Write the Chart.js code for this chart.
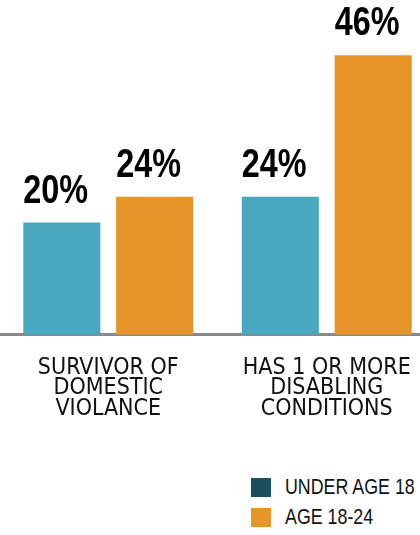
<!DOCTYPE html>
<html>
<head>
<meta charset="utf-8">
<script src="https://cdn.jsdelivr.net/npm/chart.js@4.4.1/dist/chart.umd.min.js"></script>
<style>
html, body { margin: 0; padding: 0; background: #fff; width: 420px; height: 535px; overflow: hidden; position: relative; }
#wrap { position: absolute; left: -1px; top: 0; width: 437px; height: 442px; }
#legend { position: absolute; left: 251px; top: 472px; font-family: "Liberation Sans", Arial, sans-serif; font-size: 22px; color: #111; white-space: nowrap; }
.item { display: flex; align-items: center; height: 30px; }
.box { width: 20px; height: 19px; margin-right: 14px; flex: none; }
.txt { display: inline-block; transform: scaleX(0.81); transform-origin: left center; }
</style>
</head>
<body>
<div id="wrap"><canvas id="chart"></canvas></div>
<div id="legend"></div>
<script>
// chart data
var categories = [["SURVIVOR OF", "DOMESTIC", "VIOLANCE"], ["HAS 1 OR MORE", "DISABLING", "CONDITIONS"]];
var seriesNames = ["UNDER AGE 18", "AGE 18-24"];
var under18 = [20, 24];
var age18to24 = [24, 46];

var TICK_FONT = '"DejaVu Sans Condensed", "Liberation Sans", sans-serif';
var LABEL_FONT = '"Liberation Sans", Arial, sans-serif';
var barColors = ["#49A8BF", "#E69628"];
var legendColors = ["#1B4F5B", "#E69628"];

// percent labels over each bar, left aligned to the bar (narrowed like the original)
var valueLabels = {
    id: "valueLabels",
    afterDatasetsDraw: function(chart) {
        var ctx = chart.ctx;
        chart.data.datasets.forEach(function(ds, i) {
            chart.getDatasetMeta(i).data.forEach(function(bar, j) {
                ctx.save();
                ctx.font = "bold 40px " + LABEL_FONT;
                ctx.fillStyle = "#000";
                ctx.textAlign = "left";
                ctx.textBaseline = "alphabetic";
                ctx.translate(bar.x - bar.width / 2, bar.y - 20);
                ctx.scale(0.81, 1);
                ctx.fillText(ds.data[j] + "%", 0, 0);
                ctx.restore();
            });
        });
    }
};

var ctx = document.getElementById("chart");

var chartData = {
    labels: categories,
    datasets: [{
        label: seriesNames[0],
        data: under18,
        backgroundColor: barColors[0],
        borderWidth: 0
    }, {
        label: seriesNames[1],
        data: age18to24,
        backgroundColor: barColors[1],
        borderWidth: 0
    }]
};

var config = {
    type: "bar",
    data: chartData,
    plugins: [valueLabels],
    options: {
        responsive: true,
        maintainAspectRatio: false,
        animation: false,
        layout: { padding: 0 },
        datasets: { bar: { categoryPercentage: 0.85, barPercentage: 0.83 } },
        plugins: { legend: { display: false }, tooltip: { enabled: false } },
        scales: {
            x: {
                grid: { display: false, drawTicks: false },
                border: { display: true, color: "#8a8a8a", width: 3 },
                ticks: {
                    color: "#111",
                    padding: 23,
                    maxRotation: 0,
                    autoSkip: false,
                    font: { family: TICK_FONT, size: 23, lineHeight: "20.5px" }
                }
            },
            y: {
                display: false,
                min: 2.6,
                max: 54.6
            }
        }
    }
};

var barChart = new Chart(ctx, config);

// legend
var legend = document.getElementById("legend");
seriesNames.forEach(function(name, i) {
    var item = document.createElement("div");
    item.className = "item";
    item.innerHTML = '<span class="box" style="background:' + legendColors[i] + '"></span><span class="txt">' + name + '</span>';
    legend.appendChild(item);
});
</script>
</body>
</html>
